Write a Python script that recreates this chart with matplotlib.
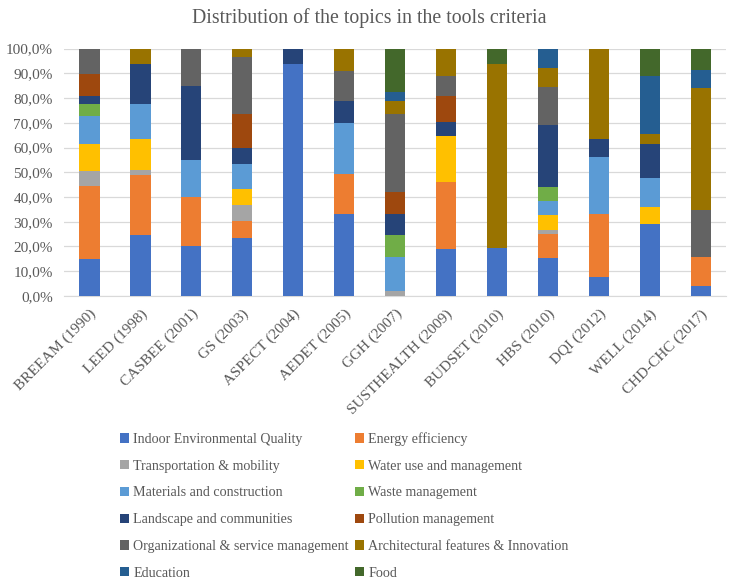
import matplotlib.pyplot as plt
import numpy as np

plt.rcParams['font.family'] = ['Liberation Serif', 'DejaVu Serif']

# ------------------------ #
# DATA (percent per topic)
# ------------------------ #
tools = ["BREEAM (1990)", "LEED (1998)", "CASBEE (2001)", "GS (2003)", "ASPECT (2004)",
         "AEDET (2005)", "GGH (2007)", "SUSTHEALTH (2009)", "BUDSET (2010)", "HBS (2010)",
         "DQI (2012)", "WELL (2014)", "CHD-CHC (2017)"]

ieq        = [15.0, 24.5, 20.0, 23.5, 93.7, 33.3, 0.0, 18.9, 19.5, 15.4, 7.5, 29.1, 4.2]
energy     = [29.6, 24.4, 20.0, 6.6, 0.0, 15.9, 0.0, 27.1, 0.0, 9.7, 25.8, 0.0, 11.7]
transport  = [5.9, 2.0, 0.0, 6.6, 0.0, 0.0, 1.8, 0.0, 0.0, 1.6, 0.0, 0.0, 0.0]
water      = [11.1, 12.4, 0.0, 6.7, 0.0, 0.0, 0.0, 18.8, 0.0, 5.9, 0.0, 6.7, 0.0]
materials  = [11.3, 14.3, 15.0, 10.0, 0.0, 20.9, 13.8, 0.0, 0.0, 5.7, 22.8, 12.0, 0.0]
waste      = [4.7, 0.0, 0.0, 0.0, 0.0, 0.0, 8.9, 0.0, 0.0, 5.9, 0.0, 0.0, 0.0]
landscape  = [3.3, 16.2, 30.0, 6.6, 6.3, 8.9, 8.8, 5.4, 0.0, 25.1, 7.5, 13.8, 0.0]
pollution  = [8.9, 0.0, 0.0, 13.5, 0.0, 0.0, 8.7, 10.8, 0.0, 0.0, 0.0, 0.0, 0.0]
organiz    = [10.2, 0.0, 15.0, 23.0, 0.0, 12.1, 31.6, 8.1, 0.0, 15.2, 0.0, 0.0, 19.0]
arch       = [0.0, 6.2, 0.0, 3.5, 0.0, 8.9, 5.4, 10.9, 74.2, 7.8, 36.4, 4.0, 49.2]
education  = [0.0, 0.0, 0.0, 0.0, 0.0, 0.0, 3.5, 0.0, 0.0, 7.7, 0.0, 23.3, 7.4]
food       = [0.0, 0.0, 0.0, 0.0, 0.0, 0.0, 17.5, 0.0, 6.3, 0.0, 0.0, 11.1, 8.5]

series = [
    ("Indoor Environmental Quality", ieq, "#4472C4"),
    ("Energy efficiency", energy, "#ED7D31"),
    ("Transportation & mobility", transport, "#A5A5A5"),
    ("Water use and management", water, "#FFC000"),
    ("Materials and construction", materials, "#5B9BD5"),
    ("Waste management", waste, "#70AD47"),
    ("Landscape and communities", landscape, "#264478"),
    ("Pollution management", pollution, "#9E480E"),
    ("Organizational & service management", organiz, "#636363"),
    ("Architectural features & Innovation", arch, "#997300"),
    ("Education", education, "#255E91"),
    ("Food", food, "#43682B"),
]

# ------------------------ #
# PLOTTING
# ------------------------ #
fig = plt.figure(figsize=(7.35, 5.86), dpi=100)
ax = fig.add_axes([0.087, 0.495, 0.901, 0.422])

x = np.arange(len(tools))
bottom = np.zeros(len(tools))
handles = []
for name, vals, col in series:
    v = np.array(vals) / 100.0
    h = ax.bar(x, v, 0.4, bottom=bottom, color=col, label=name, zorder=3)
    handles.append(h)
    bottom += v

txt = "#595959"
ax.set_xlim(-0.5, len(tools) - 0.5)
ax.set_ylim(0, 1.0)
ax.set_yticks(np.arange(0, 1.01, 0.1))
ax.set_yticklabels([f"{t*100:.1f}%".replace(".", ",") for t in np.arange(0, 1.01, 0.1)])
ax.set_xticks(x)
ax.set_xticklabels(tools, rotation=45, ha="right", rotation_mode="anchor")
ax.tick_params(axis="both", length=0, labelsize=11, colors=txt)
ax.tick_params(axis="x", pad=8)
ax.tick_params(axis="y", pad=8)
ax.grid(axis="y", color="#D9D9D9", linewidth=0.9, zorder=0)
for s in ["top", "right", "left"]:
    ax.spines[s].set_visible(False)
ax.spines["bottom"].set_color("#D9D9D9")

# title is centred on the whole chart area
fig.text(0.503, 0.969, "Distribution of the topics in the tools criteria",
         fontsize=14.3, color=txt, ha="center", va="center")

# Excel fills the legend row-wise; matplotlib fills column-wise
order = list(range(0, 12, 2)) + list(range(1, 12, 2))
leg = fig.legend([handles[i] for i in order], [series[i][0] for i in order],
                 ncol=2, loc="upper left", bbox_to_anchor=(0.146, 0.284),
                 frameon=False, fontsize=10.1, handlelength=0.65, handleheight=0.65,
                 handletextpad=0.3, columnspacing=0.45, labelspacing=0.98)
for t in leg.get_texts():
    t.set_color(txt)

plt.savefig("out.png", dpi=100)
